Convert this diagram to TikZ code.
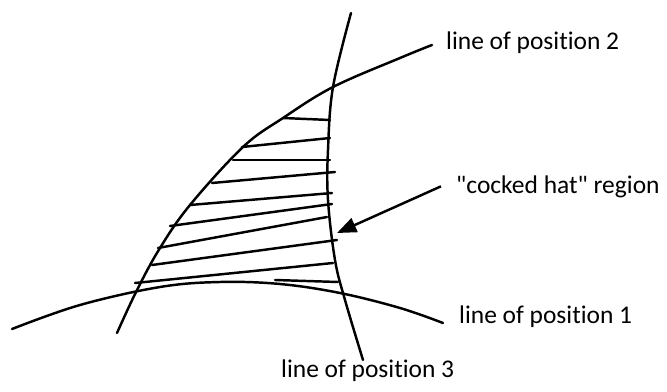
\documentclass[tikz,border=0pt]{standalone}
\usepackage{fontspec}
\setmainfont{Carlito}[Ligatures=NoCommon]
\usepackage{tikz}
\usetikzlibrary{arrows.meta,positioning}
\newcommand{\lopfont}{\fontsize{14.5}{17}\selectfont}

\begin{document}
\begin{tikzpicture}[x=0.02cm, y=-0.02cm, line width=1.4pt,
    lop/.style={anchor=base west, inner sep=0pt, font=\lopfont},
    hatch/.style={line cap=round}]
        \useasboundingbox (0,0) rectangle (667,392);
        % Lines of position
        \draw[line cap=round] plot[smooth, tension=0.6] coordinates
          {(12,329) (80,305) (160,287) (220,282) (280,284) (340,293) (400,308) (443,323)};
        \draw[line cap=round] plot[smooth, tension=0.6] coordinates
          {(117,333) (137,290) (160,248) (190,205) (243,147) (283,118) (333,87) (400,58) (432,45)};
        \draw[line cap=round] plot[smooth, tension=0.6] coordinates
          {(351,13) (333,87) (328,150) (328,200) (335,260) (345,300) (363,360)};
        % Hatching of the region
        \foreach \a/\b in {{283,118}/{330,120}, {242,147}/{330,138}, {233,160}/{330,160},
                           {212,183}/{335,172}, {190,205}/{332,193}, {170,226}/{332,204},
                           {158,248}/{327,217}, {152,265}/{337,240}, {135,283}/{333,263},
                           {275,280}/{338,282}}
          \draw[hatch] (\a) -- (\b);
        % Labels
        \node[lop] (lop2) at (445,50) {line of position 2};
        \node[lop] (hat) at (455,193) {\textquotedbl cocked hat\textquotedbl{} region};
        \node[lop] (lop1) at (458,323) {line of position 1};
        \node[lop] (lop3) at (280,377) {line of position 3};
        \coordinate (tip) at (337,233);
        \draw[-{Triangle[length=11pt,width=8.5pt]}] (hat.west) ++(-8pt,0) coordinate (tail) (tail) -- (tip);
      \end{tikzpicture}
\end{document}
